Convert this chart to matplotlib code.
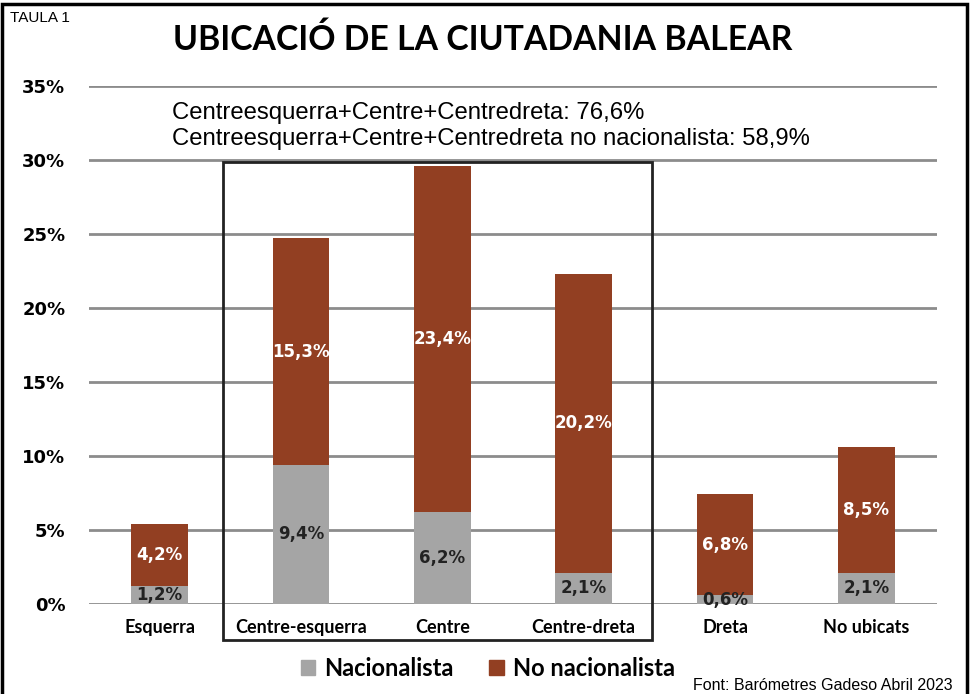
import matplotlib
matplotlib.use('Agg')
import matplotlib.pyplot as plt
from matplotlib.patches import Rectangle

# data
categories = ['Esquerra', 'Centre-esquerra', 'Centre', 'Centre-dreta', 'Dreta', 'No ubicats']
nacionalista = [1.2, 9.4, 6.2, 2.1, 0.6, 2.1]
no_nacionalista = [4.2, 15.3, 23.4, 20.2, 6.8, 8.5]
yticks = [0, 5, 10, 15, 20, 25, 30, 35]

gray = '#a5a5a5'
brown = '#923f22'

fig = plt.figure(figsize=(9.71, 6.94), dpi=100)
ax = fig.add_axes([89/971, 1-604/694, 848/971, 518/694])

x = range(len(categories))
ax.bar(x, nacionalista, width=0.40, color=gray, zorder=3)
ax.bar(x, no_nacionalista, width=0.40, bottom=nacionalista, color=brown, zorder=3)

for i in x:
    n = nacionalista[i]; b = no_nacionalista[i]
    ax.text(i, n/2, (str(n)+'%').replace('.', ','), ha='center', va='center',
            fontsize=12, fontweight='bold', color='#222222', family='DejaVu Sans', zorder=4)
    ax.text(i, n + b/2, (str(b)+'%').replace('.', ','), ha='center', va='center',
            fontsize=12, fontweight='bold', color='white', family='DejaVu Sans', zorder=4)

ax.set_xlim(-0.5, 5.5)
ax.set_ylim(0, 35)
ax.set_yticks(yticks)
ax.set_yticklabels([str(t)+'%' for t in yticks], fontsize=13, fontweight='bold', family='DejaVu Sans')
ax.yaxis.grid(True, color='#8c8c8c', linewidth=2, zorder=0)
ax.set_xticks(list(x))
ax.set_xticklabels(categories, fontsize=13, fontweight='bold', family='Lato')
ax.tick_params(axis='both', length=0)
ax.tick_params(axis='y', pad=17)
ax.tick_params(axis='x', pad=11)
for s in ax.spines.values():
    s.set_visible(False)

# box around the centre groups
fig.patches.append(Rectangle((223/971, 1-640/694), 429/971, 478/694, transform=fig.transFigure,
                             fill=False, edgecolor='#222222', linewidth=2))
# outer frame
fig.patches.append(Rectangle((2/971, -0.01), 965/971, 1-4/694+0.01, transform=fig.transFigure,
                             fill=False, edgecolor='black', linewidth=2.5))

fig.text(10/971, 1-18/694, 'TAULA 1', fontsize=11, family='Liberation Sans', va='center')
fig.text(483/971, 1-40/694, 'UBICACIÓ DE LA CIUTADANIA BALEAR', fontsize=24.3, fontweight='bold',
         family='Lato', ha='center', va='center')
fig.text(172/971, 1-113/694, 'Centreesquerra+Centre+Centredreta: 76,6%', fontsize=17.2,
         family='Liberation Sans', va='center')
fig.text(172/971, 1-139/694, 'Centreesquerra+Centre+Centredreta no nacionalista: 58,9%', fontsize=17.2,
         family='Liberation Sans', va='center')

handles = [Rectangle((0, 0), 1, 1, color=gray), Rectangle((0, 0), 1, 1, color=brown)]
fig.legend(handles, ['Nacionalista', 'No nacionalista'], loc='center', bbox_to_anchor=(488/971, 1-668/694),
           ncol=2, frameon=False, prop={'family': 'Lato', 'weight': 'bold', 'size': 17},
           handlelength=0.6, handleheight=0.6, handletextpad=0.4, columnspacing=1.5)

fig.text(953/971, 1-686/694, 'Font: Barómetres Gadeso Abril 2023', fontsize=11.5,
         family='Liberation Sans', ha='right', va='center')

fig.savefig('out.png', dpi=100)
